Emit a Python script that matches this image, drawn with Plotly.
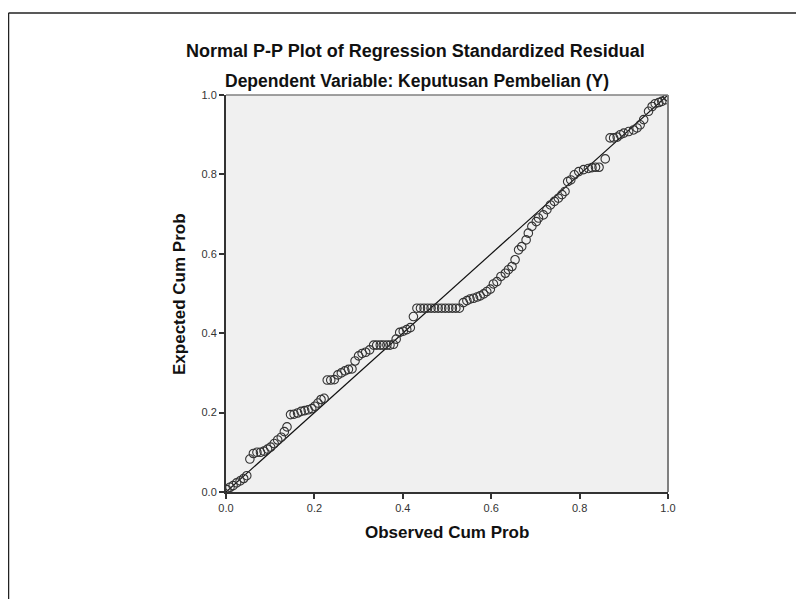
import plotly.graph_objects as go

# Observed cumulative probability (x) and expected cumulative probability (y)
observed_cum_prob = [
    0.002, 0.009, 0.016, 0.024, 0.032, 0.040, 0.047,
    0.054, 0.062, 0.070, 0.078, 0.086, 0.094, 0.101, 0.109, 0.117, 0.125, 0.132, 0.138,
    0.146, 0.154, 0.162, 0.170, 0.178, 0.186, 0.194, 0.201, 0.208, 0.215, 0.222,
    0.229, 0.237, 0.245, 0.253, 0.261, 0.269, 0.277, 0.285,
    0.292, 0.300, 0.308, 0.316, 0.325,
    0.334, 0.341, 0.349, 0.356, 0.364, 0.371, 0.379,
    0.385, 0.393, 0.401, 0.409, 0.417, 0.424,
    0.432, 0.440, 0.448, 0.456, 0.464, 0.472, 0.480, 0.488, 0.496, 0.504, 0.512, 0.520, 0.528,
    0.537, 0.545, 0.552, 0.560, 0.568, 0.575, 0.583, 0.590, 0.598, 0.605, 0.613,
    0.622, 0.632, 0.639, 0.647, 0.654, 0.662, 0.669, 0.679, 0.684, 0.692, 0.702, 0.707,
    0.718, 0.726, 0.734, 0.743, 0.752, 0.760, 0.767, 0.773, 0.780, 0.788, 0.798,
    0.809, 0.820, 0.828, 0.836, 0.844, 0.858,
    0.869, 0.877, 0.885, 0.892, 0.900, 0.911, 0.922, 0.930, 0.937, 0.945,
    0.956, 0.964, 0.971, 0.979, 0.986, 0.994, 0.999,
]
expected_cum_prob = [
    0.006, 0.012, 0.016, 0.023, 0.028, 0.034, 0.041,
    0.083, 0.097, 0.100, 0.100, 0.103, 0.108, 0.113, 0.122, 0.131, 0.138, 0.152, 0.164,
    0.195, 0.196, 0.199, 0.203, 0.205, 0.207, 0.210, 0.216, 0.224, 0.233, 0.236,
    0.282, 0.282, 0.283, 0.295, 0.300, 0.305, 0.309, 0.310,
    0.330, 0.343, 0.349, 0.352, 0.358,
    0.370, 0.370, 0.370, 0.370, 0.370, 0.370, 0.372,
    0.385, 0.402, 0.405, 0.409, 0.414, 0.442,
    0.463, 0.463, 0.463, 0.463, 0.463, 0.463, 0.463, 0.463, 0.463, 0.463, 0.463, 0.463, 0.463,
    0.477, 0.482, 0.486, 0.488, 0.491, 0.494, 0.499, 0.505, 0.511, 0.524, 0.530,
    0.543, 0.551, 0.560, 0.568, 0.585, 0.610, 0.618, 0.635, 0.652, 0.669, 0.681, 0.690,
    0.698, 0.711, 0.723, 0.732, 0.740, 0.749, 0.757, 0.782, 0.786, 0.799, 0.807,
    0.812, 0.815, 0.817, 0.818, 0.818, 0.839,
    0.892, 0.892, 0.894, 0.900, 0.904, 0.908, 0.912, 0.917, 0.925, 0.938,
    0.959, 0.971, 0.978, 0.981, 0.984, 0.988, 0.996,
]
reference_line_x = [0.0, 1.0]
reference_line_y = [0.0, 1.0]
tick_values = [0.0, 0.2, 0.4, 0.6, 0.8, 1.0]
tick_labels = ["0.0", "0.2", "0.4", "0.6", "0.8", "1.0"]

title_text = "Normal P-P Plot of Regression Standardized Residual"
subtitle_text = "Dependent Variable: Keputusan Pembelian (Y)"
x_title = "Observed Cum Prob"
y_title = "Expected Cum Prob"

FONT = "Arial, 'Liberation Sans', sans-serif"

fig = go.Figure()
fig.add_trace(go.Scatter(
    x=reference_line_x, y=reference_line_y, mode="lines",
    line=dict(color="#111111", width=1.2), hoverinfo="skip", showlegend=False,
))
fig.add_trace(go.Scatter(
    x=observed_cum_prob, y=expected_cum_prob, mode="markers",
    marker=dict(symbol="circle-open", size=8.5, color="#333333", line=dict(width=1.1, color="#333333")),
    showlegend=False,
))

# The page body has an 8px margin, so the figure is offset by 8px in the window.
OFF = 8
WIN_W, WIN_H = 804, 599
W, H = WIN_W - OFF, WIN_H - OFF
# plot area in window pixels: x 226..668, y 95..492
L, R, T, B = 226, 668, 95, 492

def px_x(p):
    return (p - L) / (R - L)

def px_y(p):
    return (B - p) / (B - T)

axis_common = dict(
    range=[0, 1], tickvals=tick_values, ticktext=tick_labels,
    showgrid=False, zeroline=False, ticks="outside", ticklen=5, tickwidth=1.5,
    tickcolor="#333333", showline=True, linecolor="#333333", linewidth=2,
    tickfont=dict(family=FONT, size=11, color="#333333"), fixedrange=True,
)
fig.update_layout(
    width=W, height=H,
    margin=dict(l=L - OFF, r=W - (R - OFF), t=T - OFF, b=H - (B - OFF), pad=0),
    paper_bgcolor="white", plot_bgcolor="#f0f0f0",
    xaxis=dict(**axis_common, mirror=False),
    yaxis=dict(**axis_common, mirror=False),
    annotations=[
        dict(text=f"<b>{title_text}</b>", x=px_x(415), y=px_y(51), xref="paper", yref="paper",
             showarrow=False, xanchor="center", yanchor="middle",
             font=dict(family=FONT, size=18, color="#111111")),
        dict(text=f"<b>{subtitle_text}</b>", x=px_x(417), y=px_y(81), xref="paper", yref="paper",
             showarrow=False, xanchor="center", yanchor="middle",
             font=dict(family=FONT, size=17.5, color="#111111")),
        dict(text=f"<b>{x_title}</b>", x=px_x(447), y=px_y(532), xref="paper", yref="paper",
             showarrow=False, xanchor="center", yanchor="middle",
             font=dict(family=FONT, size=17, color="#111111")),
        dict(text=f"<b>{y_title}</b>", x=px_x(179), y=px_y(294), xref="paper", yref="paper",
             showarrow=False, xanchor="center", yanchor="middle", textangle=-90,
             font=dict(family=FONT, size=17, color="#111111")),
    ],
    shapes=[
        # right and top borders of plot area
        dict(type="line", xref="paper", yref="paper", x0=1, x1=1, y0=0, y1=1,
             line=dict(color="#808080", width=2)),
        dict(type="line", xref="paper", yref="paper", x0=0, x1=1, y0=1, y1=1,
             line=dict(color="#808080", width=1.5)),
        # outer chart frame (left and top)
        dict(type="line", xref="paper", yref="paper", x0=px_x(8.5), x1=px_x(8.5), y0=px_y(13), y1=px_y(620),
             line=dict(color="#222222", width=1.5)),
        dict(type="line", xref="paper", yref="paper", x0=px_x(8.5), x1=px_x(820), y0=px_y(13), y1=px_y(13),
             line=dict(color="#222222", width=1.5)),
    ],
)

fig.write_html("out.html")
